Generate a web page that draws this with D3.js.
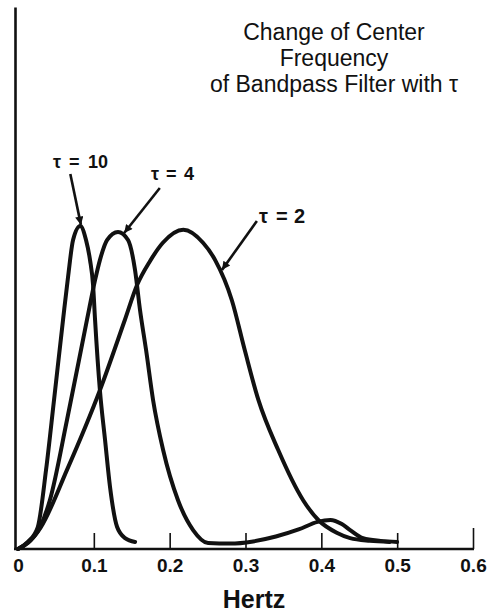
<!DOCTYPE html>
<html>
<head>
<meta charset="utf-8">
<script src="https://cdn.jsdelivr.net/npm/d3@7/dist/d3.min.js"></script>
<style>
  html, body { margin: 0; padding: 0; background: #fff; }
  svg { display: block; }
  text { font-family: "Liberation Sans", Arial, Helvetica, sans-serif; fill: #111; }
</style>
</head>
<body>
<svg id="chart" width="492" height="616"></svg>
<script>
// ---- data (Hertz vs. relative response, arbitrary units 0-100) ----
const xTicks = [0, 0.1, 0.2, 0.3, 0.4, 0.5, 0.6];
const xTickLabels = ["0", "0.1", "0.2", "0.3", "0.4", "0.5", "0.6"];
const titleLines = ["Change of Center", "Frequency", "of Bandpass Filter with \u03c4"];
const xLabel = "Hertz";
const seriesNames = ["\u03c4 = 10", "\u03c4 = 4", "\u03c4 = 2"];

const tau10X = [0, 0.013, 0.026, 0.037, 0.0475, 0.0594, 0.066, 0.0726, 0.082, 0.0897, 0.095, 0.099, 0.1016, 0.108, 0.1148, 0.1214, 0.1306, 0.1412, 0.1544];
const tau10Y = [0, 1.3, 4, 14.6, 27.5, 42.3, 50.2, 57, 59.6, 57, 53.3, 48.7, 42.3, 29.3, 20.1, 11.4, 4.1, 2.0, 1.3];

const tau4X = [0, 0.013, 0.029, 0.042, 0.0646, 0.091, 0.1016, 0.108, 0.1174, 0.1319, 0.1451, 0.1543, 0.1609, 0.1689, 0.1781, 0.1913, 0.211, 0.2309, 0.2507, 0.28, 0.31, 0.34, 0.37, 0.395, 0.412, 0.427, 0.438, 0.455, 0.478, 0.5];
const tau4Y = [0, 1.2, 4, 9, 23.8, 42.3, 49.6, 53.3, 57, 58.5, 57, 51.5, 44.1, 36.7, 27.5, 18.3, 9.0, 3.5, 1.1, 1.0, 1.4, 2.3, 3.6, 5.0, 5.35, 4.6, 3.5, 2.0, 1.5, 1.3];

const tau2X = [0, 0.013, 0.03, 0.0646, 0.108, 0.141, 0.157, 0.174, 0.191, 0.218, 0.244, 0.26, 0.282, 0.299, 0.317, 0.343, 0.376, 0.396, 0.421, 0.438, 0.464, 0.49];
const tau2Y = [0, 1.1, 4, 14.6, 29.3, 42.3, 48.7, 53.1, 56.5, 58.9, 56.5, 53.3, 45.9, 36.7, 27.5, 18.3, 9.0, 5.35, 2.95, 2.0, 1.5, 1.3];

// label arrows in data units
const arrowFromX = [0.069, 0.187, 0.315];
const arrowFromY = [69.2, 66.6, 60.5];
const arrowToX = [0.083, 0.140, 0.269];
const arrowToY = [59.8, 58.3, 51.5];

// ---- layout ----
const svg = d3.select("#chart");
const x = d3.scaleLinear().domain([0, 0.6]).range([18, 473]);
const y = d3.scaleLinear().domain([0, 100]).range([549, 7]);

// y axis (plain line)
svg.append("g")
  .attr("transform", "translate(15,0)")
  .call(d3.axisLeft(y).tickValues([]).tickSizeOuter(0))
  .call(g => g.select(".domain").attr("stroke", "#111").attr("stroke-width", 2.6));

// baseline
svg.append("line")
  .attr("x1", 14).attr("x2", x(0.6) + 1)
  .attr("y1", y(0)).attr("y2", y(0))
  .attr("stroke", "#111").attr("stroke-width", 2.4);

// x axis ticks + labels
const xAxis = d3.axisBottom(x)
  .tickValues(xTicks)
  .tickFormat((d, i) => xTickLabels[i])
  .tickSizeInner(-16)
  .tickSizeOuter(0)
  .tickPadding(10);

const gx = svg.append("g")
  .attr("transform", `translate(0,${y(0)})`)
  .call(xAxis);
gx.select(".domain").remove();
gx.selectAll(".tick line")
  .attr("stroke", "#111").attr("stroke-width", 1.6)
  .attr("y2", d => d === 0 ? 0 : (d === 0.6 ? -21 : -16));
gx.selectAll(".tick text")
  .style("font-family", "'Liberation Sans', Arial, sans-serif")
  .style("font-size", "19px")
  .style("font-weight", "bold")
  .attr("fill", "#111");

// x label
svg.append("text")
  .attr("x", 254).attr("y", 608)
  .attr("text-anchor", "middle")
  .style("font-size", "25px").style("font-weight", "bold")
  .text(xLabel);

// title
const titleY = [40, 66, 92];
titleLines.forEach((t, i) => {
  svg.append("text")
    .attr("x", 334).attr("y", titleY[i])
    .attr("text-anchor", "middle")
    .style("font-size", "23px")
    .text(t);
});

// curves
const line = d3.line()
  .x(d => x(d[0]))
  .y(d => y(d[1]))
  .curve(d3.curveMonotoneX);

const series = [
  d3.zip(tau10X, tau10Y),
  d3.zip(tau4X, tau4Y),
  d3.zip(tau2X, tau2Y)
];

svg.append("g").selectAll("path")
  .data(series)
  .join("path")
  .attr("d", line)
  .attr("fill", "none")
  .attr("stroke", "#111")
  .attr("stroke-width", 4)
  .attr("stroke-linejoin", "round")
  .attr("stroke-linecap", "round");

// arrow marker
svg.append("defs").append("marker")
  .attr("id", "arr")
  .attr("viewBox", "0 0 10 10")
  .attr("refX", 10).attr("refY", 5)
  .attr("markerWidth", 4.5).attr("markerHeight", 3.2)
  .attr("orient", "auto")
  .append("path")
  .attr("d", "M0,0 L10,5 L0,10 Z")
  .attr("fill", "#111");

svg.append("g").selectAll("line")
  .data(arrowFromX.map((d, i) => i))
  .join("line")
  .attr("x1", i => x(arrowFromX[i]))
  .attr("y1", i => y(arrowFromY[i]))
  .attr("x2", i => x(arrowToX[i]))
  .attr("y2", i => y(arrowToY[i]))
  .attr("stroke", "#111")
  .attr("stroke-width", 2.6)
  .attr("marker-end", "url(#arr)");

// series labels
const labelPos = [
  { tx: 53, ex: 69, nx: 88, y: 168, size: 18 },
  { tx: 151, ex: 166, nx: 184, y: 180, size: 18 },
  { tx: 259, ex: 276, nx: 294, y: 223, size: 20 }
];
seriesNames.forEach((name, i) => {
  const parts = name.split(" ");
  const p = labelPos[i];
  const g = svg.append("text")
    .attr("y", p.y)
    .style("font-size", p.size + "px")
    .style("font-weight", "bold");
  g.append("tspan").attr("x", p.tx).text(parts[0]);
  g.append("tspan").attr("x", p.ex).text(parts[1]);
  g.append("tspan").attr("x", p.nx).text(parts[2]);
});
</script>
</body>
</html>
